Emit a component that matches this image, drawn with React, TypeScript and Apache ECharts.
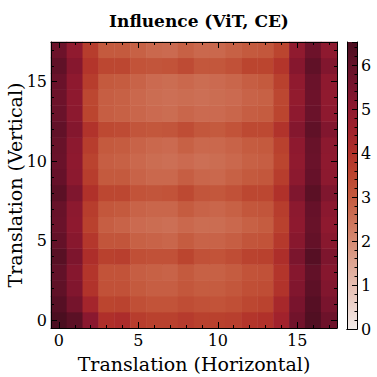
import React, { useEffect, useRef } from "react";
import * as echarts from "echarts";

const CATEGORIES = ["0","1","2","3","4","5","6","7","8","9","10","11","12","13","14","15","16","17"];

// rows from bottom (row 0) to top (row 17); each lists columns 0..17
const ROW_0 = [6.53, 6.2, 5.1, 4.05, 4.15, 3.7, 3.6, 3.6, 3.75, 3.6, 3.6, 3.65, 3.9, 4.0, 4.5, 5.7, 6.4, 5.8];
const ROW_1 = [6.3, 5.6, 4.4, 3.5, 3.55, 3.25, 3.15, 3.15, 3.3, 3.2, 3.15, 3.25, 3.45, 3.55, 4.3, 5.5, 6.3, 5.5];
const ROW_2 = [6.1, 5.3, 3.95, 3.2, 3.2, 3.0, 2.9, 2.9, 3.05, 2.95, 2.95, 3.05, 3.25, 3.3, 3.95, 5.3, 6.15, 5.3];
const ROW_3 = [6.05, 5.2, 3.9, 3.15, 3.15, 2.9, 2.85, 2.8, 3.0, 2.85, 2.85, 2.95, 3.15, 3.2, 3.9, 5.2, 6.05, 5.2];
const ROW_4 = [6.25, 5.4, 4.1, 3.6, 3.65, 3.25, 3.2, 3.2, 3.5, 3.2, 3.15, 3.3, 3.55, 3.6, 4.1, 5.45, 6.3, 5.4];
const ROW_5 = [6.0, 5.15, 3.85, 3.1, 3.1, 2.85, 2.8, 2.75, 2.95, 2.8, 2.8, 2.9, 3.1, 3.15, 3.8, 5.15, 6.0, 5.15];
const ROW_6 = [5.85, 5.0, 3.6, 2.9, 2.8, 2.65, 2.6, 2.55, 2.7, 2.6, 2.6, 2.7, 2.85, 2.95, 3.6, 5.0, 5.9, 5.0];
const ROW_7 = [5.9, 5.05, 3.7, 3.05, 3.0, 2.8, 2.75, 2.75, 2.95, 2.8, 2.75, 2.85, 3.05, 3.1, 3.7, 5.05, 5.95, 5.1];
const ROW_8 = [6.2, 5.35, 4.0, 3.45, 3.45, 3.15, 3.1, 3.15, 3.4, 3.1, 3.05, 3.2, 3.45, 3.45, 4.0, 5.35, 6.2, 5.35];
const ROW_9 = [5.95, 5.05, 3.7, 3.0, 3.0, 2.8, 2.7, 2.7, 2.9, 2.75, 2.7, 2.85, 3.0, 3.05, 3.7, 5.05, 5.95, 5.05];
const ROW_10 = [5.85, 5.0, 3.55, 2.9, 2.85, 2.7, 2.6, 2.55, 2.65, 2.55, 2.6, 2.7, 2.85, 2.9, 3.5, 4.95, 5.85, 5.0];
const ROW_11 = [5.9, 5.05, 3.7, 3.0, 2.95, 2.8, 2.7, 2.65, 2.85, 2.7, 2.7, 2.8, 2.95, 3.0, 3.6, 5.0, 5.9, 5.05];
const ROW_12 = [6.05, 5.25, 3.95, 3.4, 3.35, 3.1, 3.05, 3.1, 3.3, 3.05, 3.0, 3.15, 3.4, 3.4, 3.95, 5.25, 6.1, 5.3];
const ROW_13 = [5.85, 5.05, 3.5, 2.9, 2.85, 2.75, 2.65, 2.6, 2.75, 2.65, 2.65, 2.75, 2.9, 2.95, 3.5, 5.0, 5.85, 5.0];
const ROW_14 = [5.8, 5.0, 3.45, 2.9, 2.85, 2.7, 2.6, 2.55, 2.6, 2.55, 2.6, 2.65, 2.8, 2.85, 3.45, 4.9, 5.8, 4.95];
const ROW_15 = [5.85, 5.0, 3.7, 3.0, 2.95, 2.8, 2.65, 2.6, 2.7, 2.6, 2.65, 2.75, 2.9, 3.0, 3.6, 4.95, 5.85, 5.0];
const ROW_16 = [6.1, 5.2, 3.9, 3.45, 3.45, 3.15, 3.1, 3.15, 3.35, 3.05, 3.05, 3.2, 3.5, 3.5, 3.9, 5.2, 6.1, 5.3];
const ROW_17 = [5.8, 4.95, 3.7, 3.0, 3.0, 2.85, 2.7, 2.65, 2.85, 2.7, 2.7, 2.85, 3.0, 3.05, 3.5, 4.95, 5.8, 5.0];

const ROWS = [ROW_0, ROW_1, ROW_2, ROW_3, ROW_4, ROW_5, ROW_6, ROW_7, ROW_8, ROW_9,
  ROW_10, ROW_11, ROW_12, ROW_13, ROW_14, ROW_15, ROW_16, ROW_17];

const MAJOR_TICKS = ["0", "5", "10", "15"];
const COLORBAR_MIN = 0;
const COLORBAR_MAX = 6.53;

const CMAP = ["#f3ecea", "#edd5ce", "#e5bdb1", "#dda491", "#d58a72", "#cd7157", "#c4593d",
  "#bb442f", "#b0302a", "#a0212c", "#8d192f", "#78142d", "#631128", "#4b0e20"];

const TITLE = "Influence (ViT, CE)";
const X_NAME = "Translation (Horizontal)";
const Y_NAME = "Translation (Vertical)";

const FONT = "DejaVu Serif";

export default function App() {
  const ref = useRef<HTMLDivElement>(null);
  useEffect(() => {
    if (!ref.current) return;
    const chart = echarts.init(ref.current, null, { renderer: "svg" });
    const data: [number, number, number][] = [];
    ROWS.forEach((row, y) => row.forEach((v, x) => data.push([x, y, v])));

    const isMajor = (_i: number, v: string) => MAJOR_TICKS.includes(v);
    const black = "#000";
    const G = { left: 51, top: 42, width: 286, height: 286 };
    const CB = { left: 347, top: 42, width: 10, height: 287 };

    const catAxis = (pos: string, major: boolean, withLine: boolean, withLabel: boolean, extra: any = {}) => ({
      type: "category",
      gridIndex: 0,
      data: CATEGORIES,
      position: pos,
      z: 10,
      axisLine: { show: withLine, lineStyle: { color: black, width: 1 } },
      axisTick: {
        show: true,
        inside: true,
        alignWithLabel: true,
        interval: major ? isMajor : 0,
        length: major ? 6 : 3,
        lineStyle: { color: black, width: 1 },
      },
      axisLabel: {
        show: withLabel,
        interval: isMajor,
        color: black,
        fontFamily: FONT,
        fontSize: 16,
        margin: 4,
      },
      splitLine: { show: false },
      ...extra,
    });

    const stops = CMAP.map((c, i) => ({ offset: i / (CMAP.length - 1), color: c }));

    chart.setOption({
      animation: false,
      backgroundColor: "#fff",
      title: {
        text: TITLE,
        left: 194,
        top: 7,
        textAlign: "center",
        textStyle: { fontFamily: FONT, fontWeight: "bold", fontSize: 17, color: black },
      },
      grid: [
        { ...G, containLabel: false, outerBoundsMode: "none" },
        { ...CB, containLabel: false, outerBoundsMode: "none" },
      ],
      visualMap: {
        show: false,
        type: "continuous",
        min: COLORBAR_MIN,
        max: COLORBAR_MAX,
        dimension: 2,
        seriesIndex: 0,
        inRange: { color: CMAP },
      },
      xAxis: [
        catAxis("bottom", false, true, true, {
          name: X_NAME,
          nameLocation: "middle",
          nameGap: 26,
          nameMoveOverlap: false,
          nameTextStyle: { fontFamily: FONT, fontSize: 19, color: black },
        }),
        catAxis("bottom", true, false, false),
        catAxis("top", false, true, false),
        catAxis("top", true, false, false),
        {
          type: "category", gridIndex: 1, data: ["cb"], position: "bottom", z: 10,
          axisLine: { show: true, lineStyle: { color: black, width: 1 } },
          axisTick: { show: false }, axisLabel: { show: false }, splitLine: { show: false },
        },
        {
          type: "category", gridIndex: 1, data: ["cb"], position: "top", z: 10,
          axisLine: { show: true, lineStyle: { color: black, width: 1 } },
          axisTick: { show: false }, axisLabel: { show: false }, splitLine: { show: false },
        },
      ],
      yAxis: [
        catAxis("left", false, true, true, {
          name: Y_NAME,
          nameLocation: "middle",
          nameGap: 27,
          nameRotate: 90,
          nameMoveOverlap: false,
          nameTextStyle: { fontFamily: FONT, fontSize: 19, color: black },
        }),
        catAxis("left", true, false, false),
        catAxis("right", false, true, false),
        catAxis("right", true, false, false),
        {
          type: "value", gridIndex: 1, position: "right", min: COLORBAR_MIN, max: COLORBAR_MAX, interval: 1, z: 10,
          axisLine: { show: true, lineStyle: { color: black, width: 1 } },
          axisTick: { show: true, inside: true, length: 5, lineStyle: { color: black, width: 1 } },
          minorTick: { show: true, splitNumber: 5, length: 2.5, lineStyle: { color: black, width: 1 } },
          axisLabel: { show: true, showMaxLabel: false, color: black, fontFamily: FONT, fontSize: 16, margin: 4 },
          splitLine: { show: false },
          minorSplitLine: { show: false },
        },
        {
          type: "value", gridIndex: 1, position: "left", min: COLORBAR_MIN, max: COLORBAR_MAX, z: 10,
          axisLine: { show: true, lineStyle: { color: black, width: 1 } },
          axisTick: { show: false }, axisLabel: { show: false }, splitLine: { show: false },
        },
      ],
      series: [
        {
          type: "heatmap",
          xAxisIndex: 0,
          yAxisIndex: 0,
          data,
          itemStyle: { borderWidth: 0 },
          emphasis: { disabled: true },
        },
        {
          type: "bar",
          xAxisIndex: 4,
          yAxisIndex: 4,
          data: [COLORBAR_MAX],
          barWidth: "100%",
          itemStyle: { color: new echarts.graphic.LinearGradient(0, 1, 0, 0, stops) },
          silent: true,
        },
      ],
    });
    return () => chart.dispose();
  }, []);
  return (
    <div
      ref={ref}
      style={{ position: "fixed", left: 0, top: 0, width: 377, height: 377 }}
    />
  );
}
